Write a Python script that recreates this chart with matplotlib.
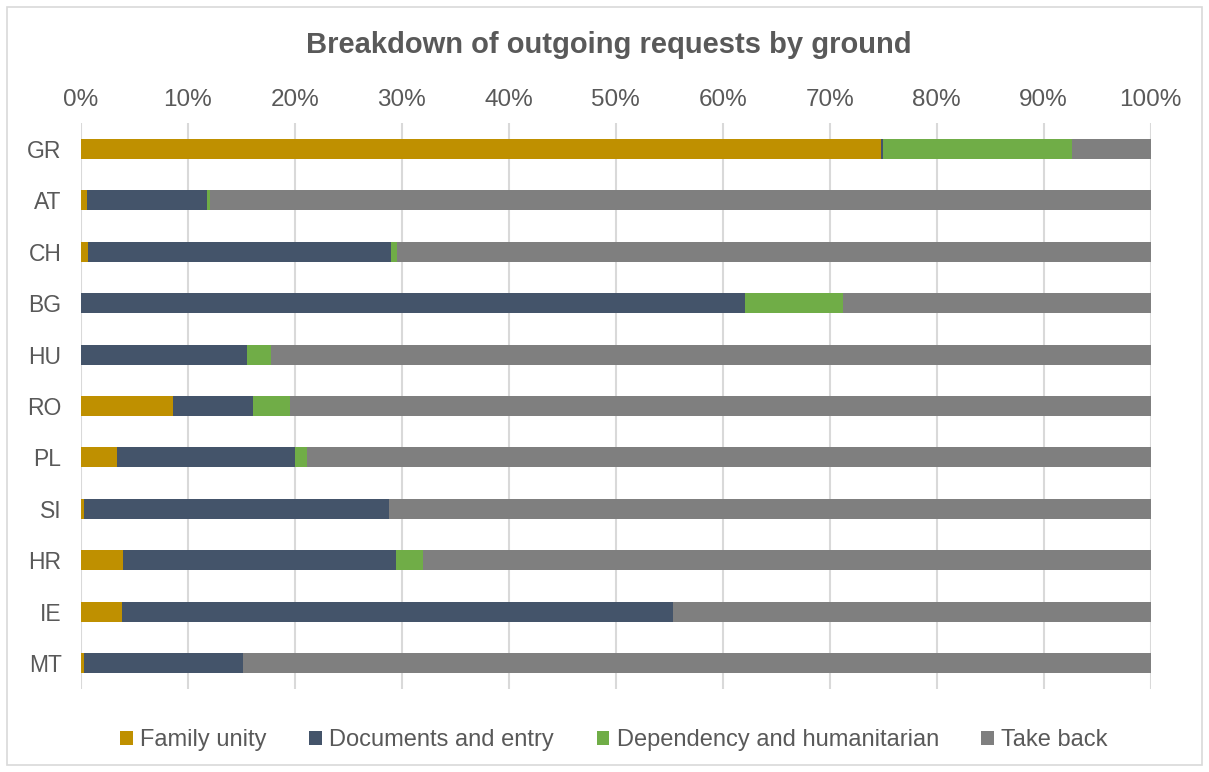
import numpy as np
import matplotlib
matplotlib.use('Agg')
import matplotlib.pyplot as plt
from matplotlib.patches import Rectangle

plt.rcParams['font.family'] = ['Liberation Sans', 'DejaVu Sans']

countries = ["GR", "AT", "CH", "BG", "HU", "RO", "PL", "SI", "HR", "IE", "MT"]
family_unity = [74.8, 0.6, 0.65, 0.0, 0.0, 8.6, 3.4, 0.3, 3.9, 3.8, 0.3]
documents_entry = [0.2, 11.2, 28.35, 62.1, 15.5, 7.5, 16.6, 28.5, 25.55, 51.5, 14.8]
dependency_hum = [17.6, 0.3, 0.5, 9.1, 2.3, 3.4, 1.1, 0.0, 2.55, 0.0, 0.0]
take_back = [7.4, 87.9, 70.5, 28.8, 82.2, 80.5, 78.9, 71.2, 68.0, 44.7, 84.9]

series = ["Family unity", "Documents and entry", "Dependency and humanitarian", "Take back"]
colors = ["#BF9000", "#44546A", "#70AD47", "#7F7F7F"]
ticks = [0, 10, 20, 30, 40, 50, 60, 70, 80, 90, 100]

text_col = '#595959'

fig = plt.figure(figsize=(12.09, 7.72), dpi=100)
ax = fig.add_axes([81 / 1209, 1 - 688.7 / 772, (1150.7 - 81) / 1209, (688.7 - 123.3) / 772])

# outer chart border
fig.patches.append(Rectangle((7 / 1209, 7 / 772), 1195 / 1209, 758 / 772, transform=fig.transFigure,
                             fill=False, edgecolor='#d9d9d9', linewidth=1.2))

y = np.arange(len(countries))
left = np.zeros(len(countries))
for name, vals, col in zip(series, [family_unity, documents_entry, dependency_hum, take_back], colors):
  vals = np.array(vals)
  ax.barh(y, vals, left=left, height=0.39, color=col, label=name, zorder=3)
  left = left + vals

ax.set_xlim(0, 100)
ax.set_ylim(len(countries) - 0.5, -0.5)
ax.set_yticks(y)
ax.set_yticklabels(countries)
ax.set_xticks(ticks)
ax.set_xticklabels([str(t) + '%' for t in ticks])
ax.xaxis.tick_top()
ax.tick_params(axis='x', length=0, pad=9, labelsize=17.5, labelcolor=text_col)
ax.tick_params(axis='y', length=0, pad=14, labelsize=16.5, labelcolor=text_col)
ax.grid(axis='x', color='#d9d9d9', linewidth=1.5, zorder=0)
for s in ax.spines.values():
  s.set_visible(False)

fig.text(609 / 1209, 1 - 45 / 772, "Breakdown of outgoing requests by ground", ha='center', va='center',
         fontsize=21, fontweight='bold', color=text_col)

fig.legend(loc='center', bbox_to_anchor=(614 / 1209, 1 - 740 / 772), ncol=4, frameon=False,
           fontsize=17, labelcolor=text_col, handlelength=0.55, handleheight=0.55,
           handletextpad=0.3, columnspacing=1.8)

fig.savefig('out.png', dpi=100)
